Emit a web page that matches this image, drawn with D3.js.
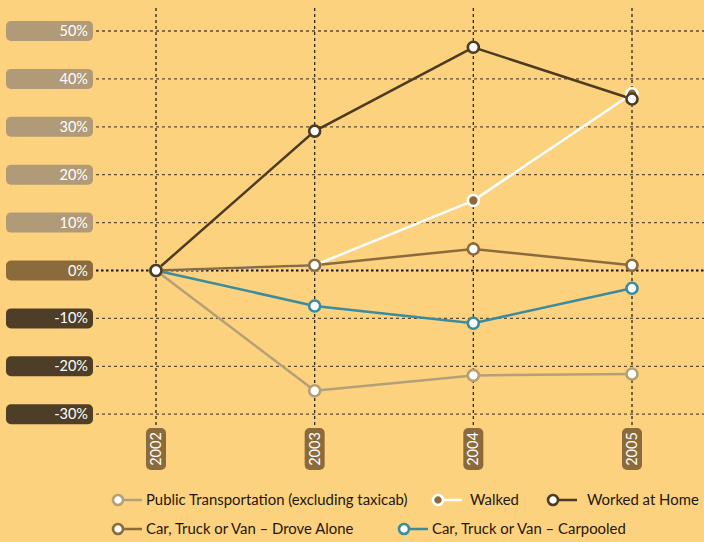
<!DOCTYPE html>
<html><head><meta charset="utf-8">
<script src="https://cdn.jsdelivr.net/npm/d3@7"></script>
<style>
html,body{margin:0;padding:0;background:#fcd27e;}
svg{display:block;font-family:Lato,"Open Sans",sans-serif;}
</style></head>
<body><svg id="c" width="704" height="542"></svg>
<script>
const years = ["2002","2003","2004","2005"];
const yTicks = [50,40,30,20,10,0,-10,-20,-30];
const publicTransport = [0,-25.1,-21.9,-21.6];
const walked = [0,1.1,14.6,36.9];
const workedHome = [0,29.1,46.6,35.8];
const droveAlone = [0,1.1,4.5,1.1];
const carpooled = [0,-7.4,-11.0,-3.7];

const seriesList = [
  {name:"Public Transportation (excluding taxicab)", values:publicTransport, color:"#b59f78", fill:"#fff", stroke:"#b59f78"},
  {name:"Car, Truck or Van \u2013 Drove Alone", values:droveAlone, color:"#8b6b3b", fill:"#fff", stroke:"#8b6b3b"},
  {name:"Car, Truck or Van \u2013 Carpooled", values:carpooled, color:"#3a8c9e", fill:"#fff", stroke:"#3a8c9e"},
  {name:"Walked", values:walked, color:"#ffffff", fill:"#8b6b3b", stroke:"#ffffff"},
  {name:"Worked at Home", values:workedHome, color:"#4d3b22", fill:"#fff", stroke:"#4d3b22"}
];
const drawOrder = [0,3,1,2,4];

const svg = d3.select("#c");
const x = d3.scalePoint().domain(years).range([156,632]);
const y = d3.scaleLinear().domain([-30,50]).range([414.2,31]);

// horizontal grid
const gGrid = svg.append("g");
gGrid.selectAll("line.h").data(yTicks).join("line")
  .attr("x1",96).attr("x2",704)
  .attr("y1",d=>y(d)).attr("y2",d=>y(d))
  .attr("stroke",d=>d===0?"#1a1208":"#5e4b2e")
  .attr("stroke-width",d=>d===0?2:1.3)
  .attr("stroke-dasharray",d=>d===0?"2.5,2.5":"3,3");
// vertical grid
gGrid.selectAll("line.v").data(years).join("line")
  .attr("x1",d=>x(d)).attr("x2",d=>x(d))
  .attr("y1",8).attr("y2",428)
  .attr("stroke","#2e2416").attr("stroke-width",1.3)
  .attr("stroke-dasharray","3,3");

// y labels
function yLabelColor(d){ return d>0?"#b09a77":(d===0?"#8b6b3b":"#4e3e27"); }
const gy = svg.append("g");
const yl = gy.selectAll("g").data(yTicks).join("g").attr("transform",d=>`translate(0,${y(d)})`);
yl.append("rect").attr("x",6).attr("y",-10).attr("width",87).attr("height",20).attr("rx",5)
  .attr("fill",yLabelColor);
yl.append("text").attr("x",88).attr("y",5).attr("text-anchor","end")
  .attr("fill","#fff").attr("font-size",14.5).text(d=>d+"%");

// x labels
const gx = svg.append("g");
const xl = gx.selectAll("g").data(years).join("g").attr("transform",d=>`translate(${x(d)},449)`);
xl.append("rect").attr("x",-10).attr("y",-21).attr("width",20).attr("height",42).attr("rx",5).attr("fill","#8b6b3b");
xl.append("text").attr("transform","rotate(-90)").attr("text-anchor","middle").attr("y",5)
  .attr("fill","#fff").attr("font-size",14.5).text(d=>d);

// lines
const line = d3.line().x((d,i)=>x(years[i])).y(d=>y(d));
const gl = svg.append("g");
drawOrder.forEach(k=>{
  const s = seriesList[k];
  gl.append("path").datum(s.values).attr("d",line).attr("fill","none")
    .attr("stroke",s.color).attr("stroke-width",2.5);
});
drawOrder.forEach(k=>{
  const s = seriesList[k];
  gl.append("g").selectAll("circle").data(s.values).join("circle")
    .attr("cx",(d,i)=>x(years[i])).attr("cy",d=>y(d)).attr("r",5.5)
    .attr("fill",s.fill).attr("stroke",s.stroke).attr("stroke-width",2.6);
});

// legend
const legendPos = [
  {s:0, x:118, y:500},
  {s:3, x:438, y:500},
  {s:4, x:553, y:500},
  {s:1, x:118, y:529},
  {s:2, x:404, y:529}
];
const gLeg = svg.append("g");
legendPos.forEach(p=>{
  const s = seriesList[p.s];
  const g = gLeg.append("g").attr("transform",`translate(${p.x},${p.y})`);
  g.append("line").attr("x1",0).attr("x2",24).attr("y1",0).attr("y2",0)
    .attr("stroke",s.color).attr("stroke-width",2.5);
  g.append("circle").attr("r",5).attr("fill",s.fill).attr("stroke",s.stroke).attr("stroke-width",2.6);
  g.append("text").attr("x",p.s===4?34:(p.s===3?32:28)).attr("y",5).attr("font-size",14.9)
    .attr("fill","#1e160c").text(s.name);
});
</script></body></html>
